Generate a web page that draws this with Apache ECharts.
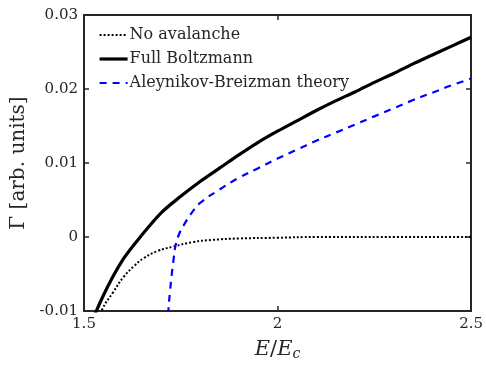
<!DOCTYPE html>
<html>
<head>
<meta charset="utf-8">
<script src="https://cdn.jsdelivr.net/npm/echarts@6/dist/echarts.min.js"></script>
<style>html,body{margin:0;padding:0;background:#fff}#c{width:486px;height:366px}</style>
</head>
<body>
<div id="c"></div>
<script>
const seriesNames = ['No avalanche', 'Full Boltzmann', 'Aleynikov-Breizman theory'];
const xTicks = [1.5, 2, 2.5];
const yTicks = [-0.01, 0, 0.01, 0.02, 0.03];

const noAvalancheE = [1.53, 1.547, 1.575, 1.603, 1.63, 1.654, 1.69, 1.731, 1.78, 1.83, 1.90, 2.0, 2.1, 2.3, 2.5];
const noAvalancheG = [-0.0125, -0.0098, -0.0075, -0.00535, -0.0039, -0.00287, -0.0019, -0.0013, -0.0007, -0.0004, -0.0002, -0.0001, 0, 0, 0];

const fullE = [1.50, 1.55, 1.60, 1.65, 1.70, 1.75, 1.80, 1.85, 1.90, 1.95, 2.00, 2.05, 2.10, 2.15, 2.20, 2.25, 2.30, 2.35, 2.40, 2.45, 2.50];
const fullG = [-0.0140, -0.0079, -0.0031, 0.0003, 0.0033, 0.0055, 0.0075, 0.0093, 0.0111, 0.0128, 0.0143, 0.0157, 0.0171, 0.0184, 0.0196, 0.0209, 0.0221, 0.0234, 0.0246, 0.0258, 0.0270];

const abE = [1.716, 1.718, 1.722, 1.727, 1.732, 1.736, 1.745, 1.76, 1.78, 1.80, 1.85, 1.90, 1.95, 2.00, 2.05, 2.10, 2.15, 2.20, 2.25, 2.30, 2.35, 2.40, 2.45, 2.50];
const abG = [-0.014, -0.010, -0.0075, -0.0049, -0.0028, -0.0013, 0.0003, 0.0018, 0.0034, 0.0046, 0.0064, 0.0080, 0.0093, 0.0106, 0.0118, 0.0130, 0.0141, 0.0152, 0.0163, 0.0174, 0.0185, 0.0195, 0.0205, 0.0214];

const zip = (a, b) => a.map((v, i) => [v, b[i]]);
const FONT = 'DejaVu Serif';
const AX = '#262626';
const lineStyles = [
  {color: '#000', width: 2, type: [2, 2]},
  {color: '#000', width: 3.2, type: 'solid'},
  {color: '#0000ff', width: 2.2, type: [7, 6]}
];

const chart = echarts.init(document.getElementById('c'), null, {renderer: 'canvas'});
const baseX = {
  type: 'value', min: xTicks[0], max: xTicks[xTicks.length - 1], interval: 0.5,
  axisLine: {show: true, onZero: false, lineStyle: {color: AX, width: 2}},
  axisTick: {show: true, inside: true, length: 5, lineStyle: {color: AX, width: 1.5}},
  splitLine: {show: false}
};
const baseY = {
  type: 'value', min: yTicks[0], max: yTicks[yTicks.length - 1], interval: 0.01,
  axisLine: {show: true, onZero: false, lineStyle: {color: AX, width: 2}},
  axisTick: {show: true, inside: true, length: 5, lineStyle: {color: AX, width: 1.5}},
  splitLine: {show: false}
};
chart.setOption({
  animation: false,
  backgroundColor: '#fff',
  grid: {left: 84, right: 13, top: 15, bottom: 54},
  legend: {
    orient: 'vertical', left: 93, top: 22, itemWidth: 28, itemHeight: 14, itemGap: 8,
    data: seriesNames.map((n, i) => ({name: n, lineStyle: lineStyles[i]})),
    itemStyle: {color: 'rgba(0,0,0,0)', borderWidth: 0, opacity: 0},
    textStyle: {fontFamily: FONT, fontSize: 16, color: AX, padding: [0, 0, 0, -3]}
  },
  xAxis: [
    Object.assign({}, baseX, {
      position: 'bottom',
      axisLabel: {show: true, fontFamily: FONT, fontSize: 15, color: AX, margin: 6,
        formatter: v => String(+v.toFixed(2))},
      name: '{i|E}{n|/}{i|E}{s|c}', nameLocation: 'middle', nameGap: 28,
      nameTextStyle: {rich: {
        i: {fontFamily: FONT, fontStyle: 'italic', fontSize: 21, color: AX},
        n: {fontFamily: FONT, fontSize: 21, color: AX},
        s: {fontFamily: FONT, fontStyle: 'italic', fontSize: 14, color: AX, verticalAlign: 'bottom', padding: [8, 0, 0, 0]}
      }}
    }),
    Object.assign({}, baseX, {position: 'top', axisLabel: {show: false}})
  ],
  yAxis: [
    Object.assign({}, baseY, {
      position: 'left',
      axisLabel: {show: true, fontFamily: FONT, fontSize: 15, color: AX, margin: 6,
        formatter: v => String(+v.toFixed(3))},
      name: 'Γ [arb. units]', nameLocation: 'middle', nameGap: 46,
      nameTextStyle: {fontFamily: FONT, fontSize: 20, color: AX}
    }),
    Object.assign({}, baseY, {position: 'right', axisLabel: {show: false}})
  ],
  series: [
    {name: seriesNames[0], type: 'line', data: zip(noAvalancheE, noAvalancheG), showSymbol: false, symbol: 'none',
      smooth: true, clip: true, lineStyle: lineStyles[0], itemStyle: {color: '#000'}},
    {name: seriesNames[1], type: 'line', data: zip(fullE, fullG), showSymbol: false, symbol: 'none',
      smooth: 0.3, clip: true, lineStyle: lineStyles[1], itemStyle: {color: '#000'}},
    {name: seriesNames[2], type: 'line', data: zip(abE, abG), showSymbol: false, symbol: 'none',
      smooth: true, clip: true, lineStyle: lineStyles[2], itemStyle: {color: '#0000ff'}}
  ]
});
</script>
</body>
</html>
